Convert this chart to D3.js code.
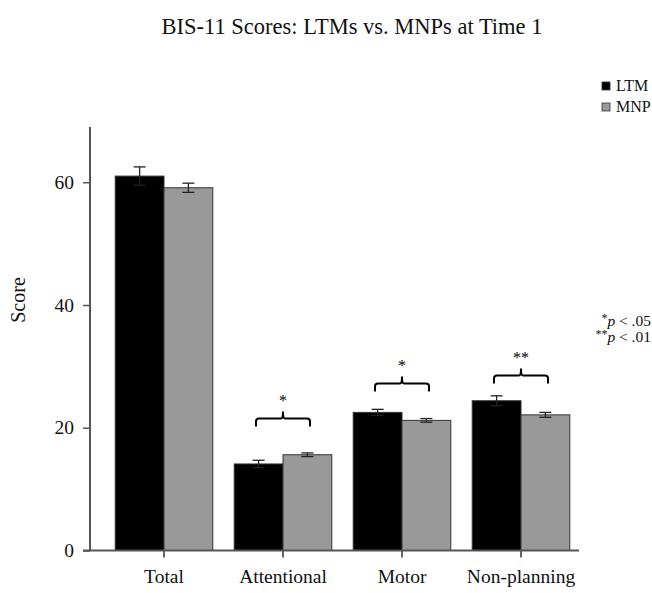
<!DOCTYPE html>
<html>
<head>
<meta charset="utf-8">
<script src="https://cdn.jsdelivr.net/npm/d3@7"></script>
<style>
  body { margin: 0; background: #fff; }
  svg text { font-family: "Liberation Serif", "Times New Roman", serif; fill: #111; }
</style>
</head>
<body>
<script>
// chart data
var categories = ["Total", "Attentional", "Motor", "Non-planning"];
var groups = ["LTM", "MNP"];
var ltmScores = [61.0, 14.1, 22.5, 24.4];
var mnpScores = [59.1, 15.6, 21.2, 22.1];
var ltmErr = [1.5, 0.6, 0.5, 0.8];
var mnpErr = [0.75, 0.3, 0.3, 0.4];
var yTicks = [0, 20, 40, 60];
// significance brackets: category, bracket height (score), label
var sigCats = ["Attentional", "Motor", "Non-planning"];
var sigLevels = [21.5, 27.2, 28.5];
var sigLabels = ["*", "*", "**"];

var W = 652, H = 593;
var svg = d3.select("body").append("svg")
    .attr("width", W).attr("height", H);

var x0 = d3.scaleBand().domain(categories).range([104.5, 580.5])
    .paddingInner(0.18).paddingOuter(0.09);
var x1 = d3.scaleBand().domain(groups).range([0, x0.bandwidth()]);
var y = d3.scaleLinear().domain([0, 69]).range([550.5, 127]);
var color = d3.scaleOrdinal().domain(groups).range(["#000000", "#999999"]);

var rows = categories.map(function(c, i) {
    return {cat: c, vals: [
        {g: "LTM", v: ltmScores[i], e: ltmErr[i]},
        {g: "MNP", v: mnpScores[i], e: mnpErr[i]}
    ]};
});

// title
svg.append("text")
    .attr("x", 352).attr("y", 34)
    .attr("text-anchor", "middle")
    .style("font-size", "22.5px")
    .text("BIS-11 Scores: LTMs vs. MNPs at Time 1");

// bars
var g = svg.selectAll(".grp").data(rows).enter().append("g")
    .attr("class", "grp")
    .attr("transform", function(d) { return "translate(" + x0(d.cat) + ",0)"; });

g.selectAll("rect").data(function(d) { return d.vals; }).enter().append("rect")
    .attr("x", function(d) { return x1(d.g); })
    .attr("y", function(d) { return y(d.v); })
    .attr("width", x1.bandwidth())
    .attr("height", function(d) { return y(0) - y(d.v); })
    .attr("fill", function(d) { return color(d.g); })
    .attr("stroke", "#333").attr("stroke-width", 1);

// error bars
var eb = g.selectAll(".err").data(function(d) { return d.vals; }).enter().append("g")
    .attr("class", "err")
    .attr("stroke", "#222").attr("stroke-width", 1.3);
eb.append("line")
    .attr("x1", function(d) { return x1(d.g) + x1.bandwidth() / 2; })
    .attr("x2", function(d) { return x1(d.g) + x1.bandwidth() / 2; })
    .attr("y1", function(d) { return y(d.v - d.e); })
    .attr("y2", function(d) { return y(d.v + d.e); });
eb.selectAll(".cap").data(function(d) { return [d.v - d.e, d.v + d.e].map(function(v) { return {g: d.g, v: v}; }); })
    .enter().append("line")
    .attr("x1", function(d) { return x1(d.g) + x1.bandwidth() / 2 - 6; })
    .attr("x2", function(d) { return x1(d.g) + x1.bandwidth() / 2 + 6; })
    .attr("y1", function(d) { return y(d.v); })
    .attr("y2", function(d) { return y(d.v); });

// axes
var yAxis = svg.append("g")
    .attr("transform", "translate(90,0)")
    .call(d3.axisLeft(y).tickValues(yTicks).tickSize(7).tickPadding(9));
yAxis.select(".domain").remove();
yAxis.append("line").attr("x1", 0).attr("x2", 0).attr("y1", y(69)).attr("y2", y(0))
    .attr("stroke", "#555").attr("stroke-width", 2);
yAxis.selectAll(".tick line").attr("stroke", "#555").attr("stroke-width", 1.5);
yAxis.selectAll(".tick text")
    .style("font-size", "19.5px")
    .style("font-family", "Liberation Serif, serif").attr("fill", "#111");

var xAxis = svg.append("g")
    .attr("transform", "translate(0," + y(0) + ")")
    .call(d3.axisBottom(x0).tickSize(7).tickSizeOuter(0).tickPadding(12));
xAxis.select(".domain").remove();
xAxis.append("line").attr("x1", 83).attr("x2", 579).attr("y1", 0).attr("y2", 0)
    .attr("stroke", "#555").attr("stroke-width", 2);
xAxis.selectAll(".tick line").attr("stroke", "#333").attr("stroke-width", 1.5);
xAxis.selectAll(".tick text")
    .style("font-size", "19.5px")
    .style("font-family", "Liberation Serif, serif").attr("fill", "#111");

svg.append("text")
    .attr("transform", "translate(25," + 300 + ") rotate(-90)")
    .attr("text-anchor", "middle")
    .style("font-size", "20px")
    .text("Score");

// significance brackets
sigCats.forEach(function(c, i) {
    var cx = x0(c) + x0.bandwidth() / 2;
    var yt = y(sigLevels[i]);
    var hw = 27, dr = 8, pk = 7, r = 3;
    var path = d3.path();
    path.moveTo(cx - hw, yt + dr);
    path.lineTo(cx - hw, yt + r);
    path.quadraticCurveTo(cx - hw, yt, cx - hw + r, yt);
    path.lineTo(cx - 2, yt);
    path.quadraticCurveTo(cx, yt, cx, yt - pk);
    path.quadraticCurveTo(cx, yt, cx + 2, yt);
    path.lineTo(cx + hw - r, yt);
    path.quadraticCurveTo(cx + hw, yt, cx + hw, yt + r);
    path.lineTo(cx + hw, yt + dr);
    svg.append("path").attr("d", path.toString())
        .attr("fill", "none").attr("stroke", "#000").attr("stroke-width", 2);
    svg.append("text")
        .attr("x", cx).attr("y", yt - 13)
        .attr("text-anchor", "middle")
        .style("font-size", "16px")
        .style("fill", "#000")
        .text(sigLabels[i]);
});

// legend
var leg = svg.selectAll(".legend").data(groups).enter().append("g")
    .attr("class", "legend")
    .attr("transform", function(d, i) { return "translate(602," + (82 + i * 21) + ")"; });
leg.append("rect").attr("width", 8).attr("height", 8)
    .attr("fill", function(d) { return color(d); })
    .attr("stroke", "#333").attr("stroke-width", 0.8);
leg.append("text").attr("x", 14).attr("y", 9)
    .style("font-size", "16px")
    .text(function(d) { return d; });

// p-value note
var note = svg.append("g").attr("text-anchor", "end").style("font-size", "15.5px");
var n1 = note.append("text").attr("x", 651).attr("y", 326);
n1.append("tspan").attr("dy", "-4").style("font-size", "12px").text("*");
n1.append("tspan").attr("dy", "4").style("font-style", "italic").text("p");
n1.append("tspan").text(" < .05");
var n2 = note.append("text").attr("x", 651).attr("y", 342);
n2.append("tspan").attr("dy", "-4").style("font-size", "12px").text("**");
n2.append("tspan").attr("dy", "4").style("font-style", "italic").text("p");
n2.append("tspan").text(" < .01");
</script>
</body>
</html>
